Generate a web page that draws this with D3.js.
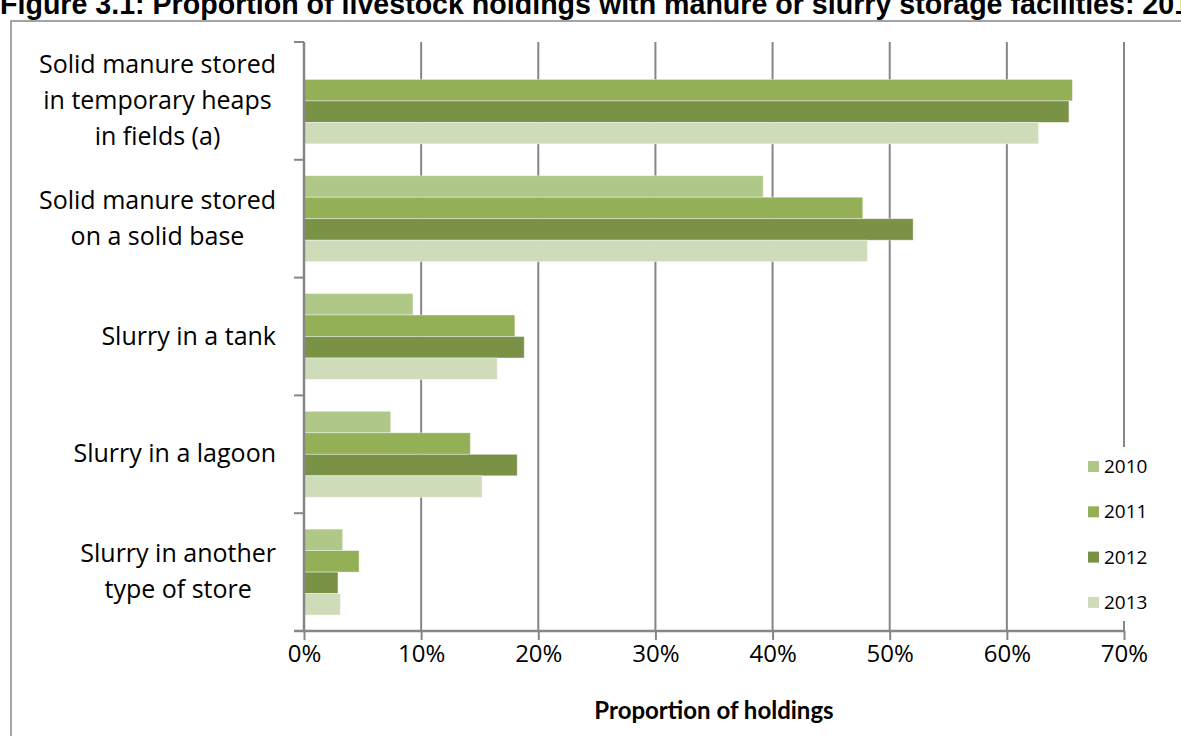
<!DOCTYPE html>
<html lang="en">
	<head>
		<meta charset="utf-8">
		<title>Manure and slurry storage</title>
		<script type="text/javascript" src="https://d3js.org/d3.v7.min.js"></script>
		<style type="text/css">
			body { margin: 0; background: #fff; }
			text { font-family: "Open Sans", sans-serif; fill: #000; }
		</style>
	</head>
	<body>
		<div id="chart"></div>

		<script type="text/javascript">

	var categories = ["Solid manure stored in temporary heaps in fields (a)",
		"Solid manure stored on a solid base",
		"Slurry in a tank",
		"Slurry in a lagoon",
		"Slurry in another type of store"]
	var categoryLines = [["Solid manure stored", "in temporary heaps", "in fields (a)"],
		["Solid manure stored", "on a solid base"],
		["Slurry in a tank"],
		["Slurry in a lagoon"],
		["Slurry in another", "type of store"]]
	var years = ["2010", "2011", "2012", "2013"]
	var v2010 = [null, 39.2, 9.3, 7.4, 3.3]
	var v2011 = [65.6, 47.7, 18.0, 14.2, 4.7]
	var v2012 = [65.3, 52.0, 18.8, 18.2, 2.9]
	var v2013 = [62.7, 48.1, 16.5, 15.2, 3.1]
	var xTicks = [0, 10, 20, 30, 40, 50, 60, 70]
	var colors = ["#afc787", "#93b057", "#7a9245", "#cedcba"]
	var title = "Figure 3.1: Proportion of livestock holdings with manure or slurry storage facilities: 2010 to 2013"

	drawChart()

	function drawChart(){
		var w = 1181
		var h = 736
		var left = 304, right = 1124, top = 42, bottom = 631
		var grey = "#868686"

		var svg = d3.select("#chart")
				.append("svg")
				.attr("width", w)
				.attr("height", h)

		// chart border, runs off the right and bottom of the picture
		svg.append("rect")
			.attr("x", 11)
			.attr("y", 21)
			.attr("width", w + 20)
			.attr("height", h + 20)
			.style("fill", "none")
			.style("stroke", grey)
			.style("stroke-width", 1.5)

		svg.append("text")
			.attr("x", 0)
			.attr("y", 14)
			.style("font-family", "'Liberation Sans', Arial, sans-serif")
			.style("font-weight", "bold")
			.style("font-size", "28.6px")
			.text(title)

		var series = [v2010, v2011, v2012, v2013]
		var rows = []
		categories.forEach(function(c, i){
			years.forEach(function(y, j){
				if (series[j][i] != null) rows.push({cat: c, year: y, value: series[j][i], k: j})
			})
		})

		var xScale = d3.scaleLinear()
			.domain([0, 70])
			.range([left, right])

		var yScale = d3.scaleBand()
			.domain(categories)
			.range([top, bottom])

		var yInner = d3.scaleBand()
			.domain(years)
			.range([0, yScale.bandwidth()])
			.paddingInner(0)
			.paddingOuter(0.74)

		// gridlines
		svg.selectAll("line.grid")
			.data(xTicks.slice(1))
			.enter()
			.append("line")
			.attr("class", "grid")
			.attr("x1", function(d){ return xScale(d) })
			.attr("x2", function(d){ return xScale(d) })
			.attr("y1", top)
			.attr("y2", bottom)
			.style("stroke", grey)
			.style("stroke-width", 2)

		svg.selectAll("rect.bar")
			.data(rows)
			.enter()
			.append("rect")
			.attr("class", "bar")
			.attr("x", xScale(0))
			.attr("y", function(d){ return yScale(d.cat) + yInner(d.year) })
			.attr("width", function(d){ return xScale(d.value) - xScale(0) })
			.attr("height", yInner.bandwidth())
			.style("fill", function(d){ return colors[d.k] })
			.style("stroke", "rgba(255,255,255,0.5)")
			.style("stroke-width", 0.8)

		var xAxis = d3.axisBottom(xScale)
			.tickValues(xTicks)
			.tickSize(9)
			.tickPadding(5)
			.tickFormat(function(d){ return d + "%" })

		var gx = svg.append("g")
			.attr("transform", "translate(0," + bottom + ")")
			.call(xAxis)
		gx.select(".domain").remove()
		gx.selectAll("line").style("stroke", grey).style("stroke-width", 2)
		gx.selectAll("text")
			.style("font-size", "24px")
			.style("font-family", "'Open Sans', sans-serif")
			.style("fill", "#000")
		gx.append("line")
			.attr("x1", left - 10)
			.attr("x2", right)
			.style("stroke", grey)
			.style("stroke-width", 2.5)

		// y axis: ticks sit on category boundaries
		var bounds = categories.map(function(c){ return yScale(c) }).concat([bottom])
		svg.append("line")
			.attr("x1", left)
			.attr("x2", left)
			.attr("y1", top)
			.attr("y2", bottom)
			.style("stroke", grey)
			.style("stroke-width", 2.5)
		svg.selectAll("line.ytick")
			.data(bounds)
			.enter()
			.append("line")
			.attr("class", "ytick")
			.attr("x1", left - 10)
			.attr("x2", left)
			.attr("y1", function(d){ return d })
			.attr("y2", function(d){ return d })
			.style("stroke", grey)
			.style("stroke-width", 2)

		var lineH = 36
		var labels = svg.selectAll("text.cat")
			.data(categories)
			.enter()
			.append("text")
			.attr("class", "cat")
			.style("font-size", "25px")
			.attr("transform", function(d, i){
				var n = categoryLines[i].length
				var cy = yScale(d) + yScale.bandwidth() / 2
				return "translate(0," + (cy - (n - 1) * lineH / 2 + 8) + ")"
			})
		labels.each(function(d, i){
			var t = d3.select(this)
			var lines = categoryLines[i]
			var tmp = lines.map(function(l){
				return t.append("tspan").attr("x", 0).text(l)
			})
			var widest = d3.max(tmp, function(s){ return s.node().getComputedTextLength() })
			var cx = 276 - widest / 2
			tmp.forEach(function(s, j){
				s.attr("x", cx).attr("y", j * lineH).attr("text-anchor", "middle")
			})
		})

		svg.append("text")
			.attr("x", (left + right) / 2)
			.attr("y", 719)
			.attr("text-anchor", "middle")
			.style("font-family", "Lato, sans-serif")
			.style("font-weight", "bold")
			.style("font-size", "24px")
			.text("Proportion of holdings")

		// legend, white box hides the last gridline
		svg.append("rect")
			.attr("x", 1080)
			.attr("y", 447)
			.attr("width", 80)
			.attr("height", 174)
			.style("fill", "#fff")
		var legend = svg.selectAll("g.legend")
			.data(years)
			.enter()
			.append("g")
			.attr("class", "legend")
			.attr("transform", function(d, i){ return "translate(1088," + (467 + i * 45.3) + ")" })
		legend.append("rect")
			.attr("x", 0)
			.attr("y", -6)
			.attr("width", 11)
			.attr("height", 11)
			.style("fill", function(d, i){ return colors[i] })
		legend.append("text")
			.attr("x", 16)
			.attr("y", 6)
			.style("font-size", "19px")
			.text(function(d){ return d })
	}
		</script>
	</body>
</html>
